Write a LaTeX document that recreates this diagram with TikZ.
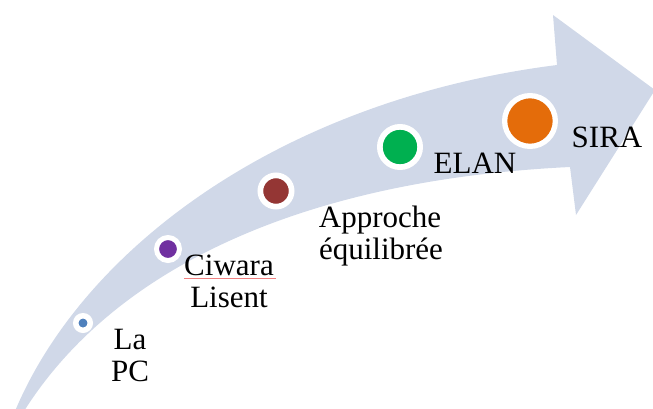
\documentclass[tikz,border=0pt]{standalone}
\usepackage{fontspec}
\setmainfont{Liberation Serif}
\definecolor{arrowfill}{HTML}{D0D8E8}
\definecolor{cblue}{HTML}{4F81BD}
\definecolor{cpurple}{HTML}{7030A0}
\definecolor{cbrown}{HTML}{943634}
\definecolor{cgreen}{HTML}{00B050}
\definecolor{corange}{HTML}{E46C0A}
\definecolor{spellred}{HTML}{F08080}
\tikzset{
  dot/.style={circle, inner sep=0pt, draw=white},
  lbl/.style={anchor=base, inner sep=0pt, font=\fontsize{31}{32}\selectfont}
}
\begin{document}
\begin{tikzpicture}[x=1pt,y=-1pt]
\useasboundingbox (0,0) rectangle (653,408);
% curved arrow
\fill[arrowfill] (13,416) .. controls (80,250) and (280,100) .. (557,65)
  -- (553,15) -- (655,90) -- (576,215) -- (570,167)
  .. controls (300,180) and (110,270) .. (21,416) -- cycle;
% milestones
\node[dot, fill=cblue,   minimum size=14.5pt, line width=5.5pt] (pc)   at (83,323)  {};
\node[dot, fill=cpurple, minimum size=23pt,   line width=5pt]   (ciw)  at (168,249) {};
\node[dot, fill=cbrown,  minimum size=31.3pt, line width=5.7pt] (app)  at (276,191) {};
\node[dot, fill=cgreen,  minimum size=40.3pt, line width=5.7pt] (elan) at (400,147) {};
\node[dot, fill=corange, minimum size=50.7pt, line width=5.3pt] (sira) at (530,121) {};
% labels
\node[lbl] (pc1) at (130,349) {La};
\node[lbl] (pc2) at (130,381) {PC};
\node[lbl] (ciw1) at (229,275) {Ciwara};
\node[lbl] (ciw2) at (229,307) {Lisent};
\draw[spellred, line width=0.6pt] (ciw1.base west) ++(0,3) -- ++(92,0);
\node[lbl] (app1) at (380,227) {Approche};
\node[lbl] (app2) at (381,259) {équilibrée};
\node[lbl] (elan1) at (475,173) {ELAN};
\node[lbl] (sira1) at (607,147) {SIRA};
\end{tikzpicture}
\end{document}
